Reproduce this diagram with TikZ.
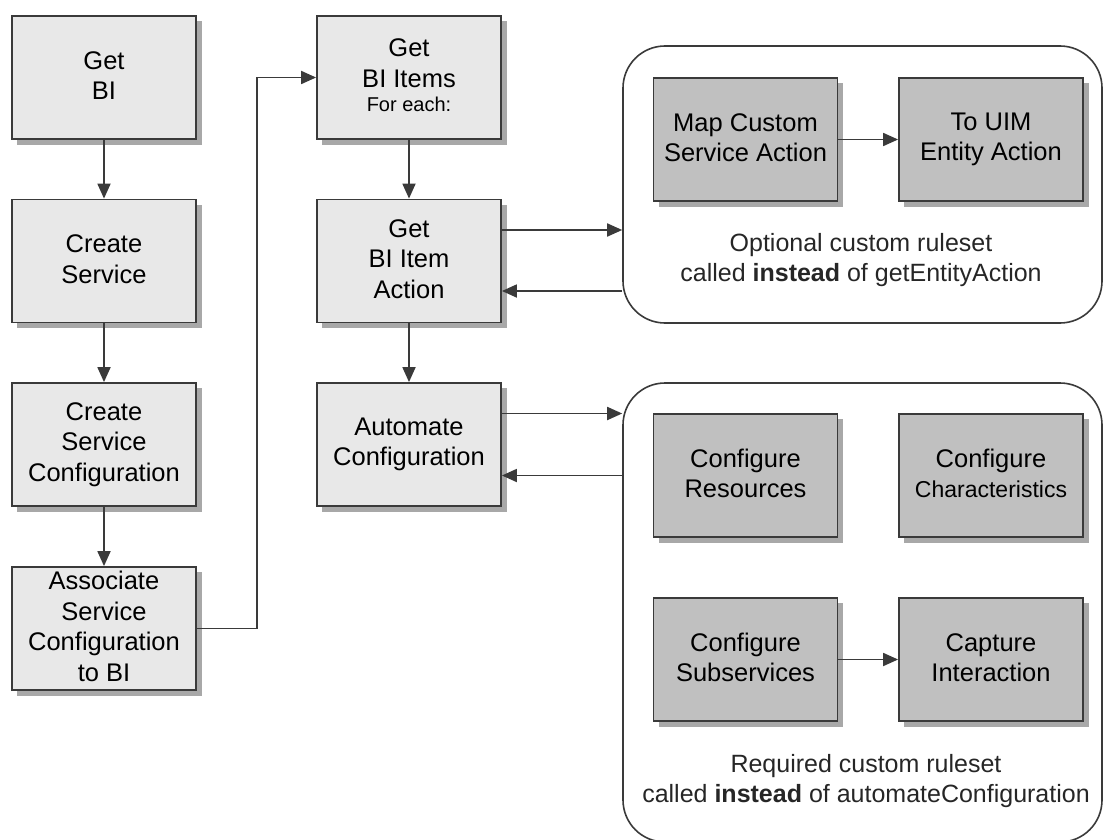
\documentclass[tikz,border=0pt]{standalone}
\usepackage{fontspec}
\setmainfont{Liberation Sans}
\usetikzlibrary{arrows.meta,backgrounds,calc}
\definecolor{boxlight}{HTML}{E8E8E8}
\definecolor{boxdark}{HTML}{C0C0C0}
\definecolor{edge}{HTML}{3A3A3A}
\definecolor{shadowc}{HTML}{A8A8A8}
\begin{document}
\begin{tikzpicture}[x=1pt,y=-1pt,
  box/.style={draw=edge, line width=1.8pt, minimum width=184pt, minimum height=123pt,
    align=center, inner sep=0pt, font=\fontsize{25.5}{30.5}\selectfont,
    execute at begin node=\rule{0pt}{18.3pt}, execute at end node=\rule[-4pt]{0pt}{4pt}},
  light/.style={box, fill=boxlight},
  dark/.style={box, fill=boxdark},
  arr/.style={draw=edge, line width=1.8pt, -{Triangle[length=15pt,width=13pt]}},
  container/.style={draw=edge, line width=1.6pt, rounded corners=42pt, inner sep=0pt},
  lbl/.style={align=center, inner sep=0pt, font=\fontsize{25}{30}\selectfont, text=black!85}]
\useasboundingbox (0,0) rectangle (1103,840);
\clip (0,0) rectangle (1103,840);

% containers
\node[container, minimum width=479pt, minimum height=277pt] (opt) at (862.5,184.5) {};
\node[container, minimum width=479pt, minimum height=459pt] (req) at (862.5,612.5) {};

% left column
\node[light] (getbi) at (104,77.5) {Get\\BI};
\node[light] (cs) at (104,261) {Create\\Service};
\node[light] (csc) at (104,444.5) {Create\\Service\\Configuration};
\node[light] (asc) at (104,628.5) {Associate\\Service\\Configuration\\to BI};

% middle column
\node[light] (items) at (409,77.5) {Get\\BI Items\\[-6pt]{\fontsize{20}{22}\selectfont For each:}};
\node[light] (bia) at (409,261) {Get\\BI Item\\Action};
\node[light] (auto) at (409,444.5) {Automate\\Configuration};

% dark boxes
\node[dark] (map) at (745.5,139.5) {Map Custom\\Service Action};
\node[dark] (uim) at (991,139.5) {To UIM\\Entity Action};
\node[dark] (res) at (745.5,475.5) {Configure\\Resources};
\node[dark] (chr) at (991,475.5) {Configure\\{\fontsize{23}{30.5}\selectfont Characteristics}};
\node[dark] (sub) at (745.5,659.5) {Configure\\Subservices};
\node[dark] (cap) at (991,659.5) {Capture\\Interaction};

% shadows
\begin{scope}[on background layer]
  \foreach \n in {getbi,cs,csc,asc,items,bia,auto,map,uim,res,chr,sub,cap}
    \fill[shadowc] ($(\n.north west)+(6,6)$) rectangle ($(\n.south east)+(5,5)$);
\end{scope}

% labels
\node[lbl] (optlbl) at (861,260) {Optional custom ruleset\\called \textbf{instead} of getEntityAction};
\node[lbl] (reqlbl) at (866,781) {Required custom ruleset\\called \textbf{instead} of automateConfiguration};

% connectors
\draw[arr] (getbi) -- (cs);
\draw[arr] (cs) -- (csc);
\draw[arr] (csc) -- (asc);
\coordinate (bend) at (257,628.5);
\draw[arr] (asc.east) -- (bend) |- (items.west);
\draw[arr] (items) -- (bia);
\draw[arr] (bia) -- (auto);
\draw[arr] ([yshift=31pt]bia.east) -- ([yshift=31pt]bia.east -| opt.west);
\draw[arr] ([yshift=-30pt]bia.east -| opt.west) -- ([yshift=-30pt]bia.east);
\draw[arr] ([yshift=31pt]auto.east) -- ([yshift=31pt]auto.east -| req.west);
\draw[arr] ([yshift=-31pt]auto.east -| req.west) -- ([yshift=-31pt]auto.east);
\draw[arr] (map) -- (uim);
\draw[arr] (sub) -- (cap);
\end{tikzpicture}
\end{document}
